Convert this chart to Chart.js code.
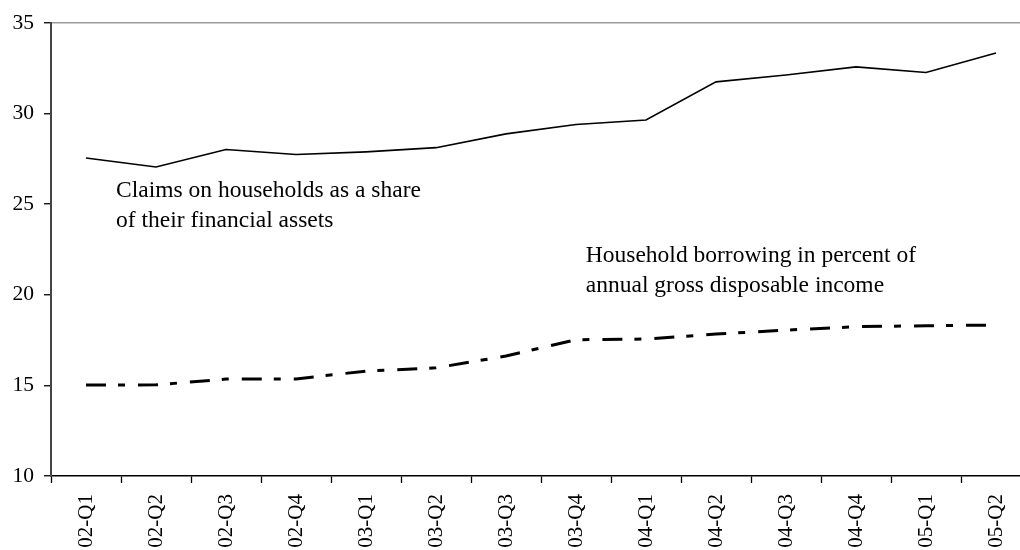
<!DOCTYPE html>
<html>
<head>
<meta charset="utf-8">
<script src="https://cdn.jsdelivr.net/npm/chart.js@4/dist/chart.umd.min.js"></script>
<style>
  html, body { margin: 0; padding: 0; overflow: hidden; background: #fff; }
  #wrap { width: 1020px; height: 550px; overflow: hidden; position: relative; }
  canvas { display: block; }
</style>
</head>
<body>
<div id="wrap"><canvas id="c" width="1040" height="550"></canvas></div>
<script>
const categories = ["02-Q1","02-Q2","02-Q3","02-Q4","03-Q1","03-Q2","03-Q3","03-Q4","04-Q1","04-Q2","04-Q3","04-Q4","05-Q1","05-Q2"];
const claimsShare = [27.55, 27.05, 28.02, 27.74, 27.89, 28.12, 28.88, 29.40, 29.65, 31.75, 32.13, 32.58, 32.27, 33.35];
const borrowingPct = [15.02, 15.03, 15.35, 15.36, 15.79, 15.97, 16.62, 17.52, 17.56, 17.83, 18.05, 18.24, 18.29, 18.33];
const yTicks = [10, 15, 20, 25, 30, 35];
const claimsLabel = ["Claims on households as a share", "of their financial assets"];
const borrowingLabel = ["Household borrowing in percent of", "annual gross disposable income"];

const FONT = "'Liberation Serif', 'Times New Roman', serif";

const textPlugin = {
  id: 'seriesText',
  afterDatasetsDraw(chart, args, opts) {
    const ctx = chart.ctx;
    const xs = chart.scales.x, ys = chart.scales.y;
    ctx.save();
    ctx.fillStyle = '#000';
    ctx.font = opts.size + 'px ' + FONT;
    ctx.textAlign = 'left';
    ctx.textBaseline = 'alphabetic';
    opts.items.forEach(it => {
      const px = xs.getPixelForValue(it.x);
      const py = ys.getPixelForValue(it.y);
      it.lines.forEach((l, i) => ctx.fillText(l, px, py + i * opts.lineGap));
    });
    ctx.restore();
  }
};

new Chart(document.getElementById('c'), {
  type: 'line',
  data: {
    labels: categories,
    datasets: [
      {
        data: claimsShare,
        borderColor: '#000',
        borderWidth: 1.6,
        pointRadius: 0,
        tension: 0,
        fill: false
      },
      {
        data: borrowingPct,
        borderColor: '#000',
        borderWidth: 3,
        borderDash: [20, 12, 7, 13],
        borderCapStyle: 'butt',
        pointRadius: 0,
        tension: 0,
        fill: false
      }
    ]
  },
  options: {
    responsive: false,
    animation: false,
    layout: { padding: { top: 23, right: 9, left: 0, bottom: 0 } },
    plugins: {
      legend: { display: false },
      tooltip: { enabled: false },
      seriesText: {
        size: 23.5,
        lineGap: 30,
        items: [
          { x: 0.43, y: 25.4, lines: claimsLabel },
          { x: 7.14, y: 21.82, lines: borrowingLabel }
        ]
      }
    },
    scales: {
      x: {
        type: 'category',
        offset: true,
        afterFit: s => { s.height = 74; },
        grid: {
          offset: true,
          drawOnChartArea: false,
          drawTicks: true,
          tickLength: 7,
          tickColor: '#000',
          tickWidth: 1.3
        },
        border: { display: true, color: '#000', width: 1.5 },
        ticks: {
          autoSkip: false,
          maxRotation: 90,
          minRotation: 90,
          padding: 11,
          color: '#000',
          font: { family: FONT, size: 21 }
        }
      },
      y: {
        min: 10,
        max: 35,
        afterFit: s => { s.width = 51; },
        afterBuildTicks: s => { s.ticks = yTicks.map(v => ({ value: v })); },
        grid: {
          drawOnChartArea: true,
          color: c => (c.tick && c.tick.value === 35) ? '#9a9a9a' : 'rgba(0,0,0,0)',
          lineWidth: 1.5,
          drawTicks: true,
          tickLength: 7,
          tickColor: '#000',
          tickWidth: 1.3
        },
        border: { display: true, color: '#444', width: 2 },
        ticks: {
          padding: 10,
          color: '#000',
          font: { family: FONT, size: 21.5 }
        }
      }
    }
  },
  plugins: [textPlugin]
});
</script>
</body>
</html>
